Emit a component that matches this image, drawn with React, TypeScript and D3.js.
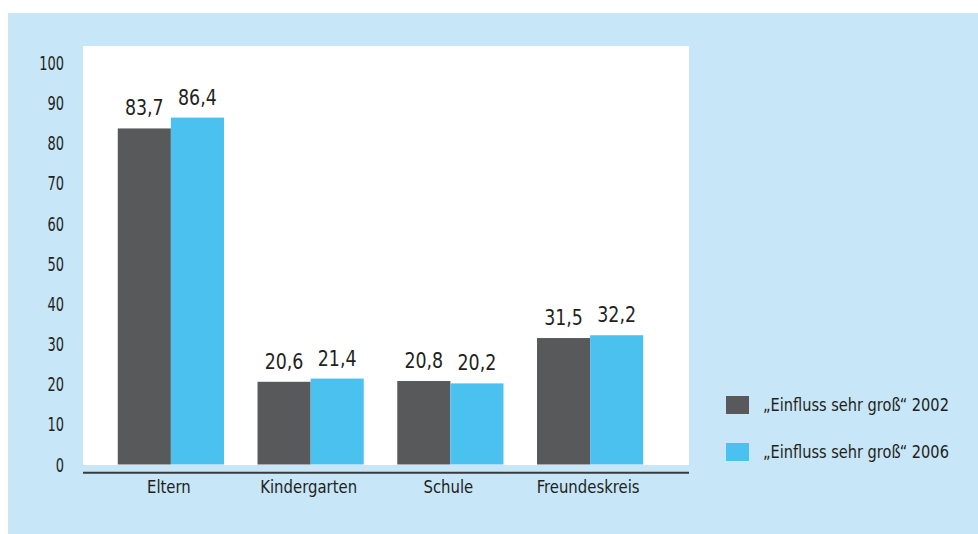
import React from 'react';
import * as d3 from 'd3';

const categories = ['Eltern', 'Kindergarten', 'Schule', 'Freundeskreis'];
const series = ['„Einfluss sehr groß“ 2002', '„Einfluss sehr groß“ 2006'];
const values2002 = [83.7, 20.6, 20.8, 31.5];
const values2006 = [86.4, 21.4, 20.2, 32.2];
const yTicks = [0, 10, 20, 30, 40, 50, 60, 70, 80, 90, 100];

const colors = ['#58595b', '#4bc1f0'];
const font = '"DejaVu Sans Condensed", "DejaVu Sans", sans-serif';
const textColor = '#231f20';

// condensed text: squeeze horizontally around its anchor point
const T: React.FC<{ x: number, y: number, sx?: number, size: number, anchor?: string, dy?: string, children: React.ReactNode }> =
  ({ x, y, sx = 0.88, size, anchor = 'start', dy, children }) => (
    <text transform={`translate(${x},${y}) scale(${sx},1)`} textAnchor={anchor} dy={dy}
      fontSize={size} fill={textColor}>{children}</text>
  );

const App: React.FC = () => {
  const width = 978, height = 534;
  const plot = { left: 83, right: 689, top: 46, bottom: 465 };

  const x = d3.scaleBand<string>()
    .domain(categories)
    .range([101, 660])
    .paddingInner(0.24)
    .paddingOuter(0.12);

  const x1 = d3.scaleBand<number>()
    .domain([0, 1])
    .range([0, x.bandwidth()]);

  const y = d3.scaleLinear().domain([0, 100]).range([464.5, 63]);

  const data = [values2002, values2006];
  const fmt = (v: number) => v.toFixed(1).replace('.', ',');

  return (
    <svg width={width} height={height} style={{ position: 'absolute', left: 0, top: 0 }}
      fontFamily={font}>
      <rect x={8} y={13} width={width - 8} height={height - 13} fill="#c7e6f8" />
      <rect x={plot.left} y={plot.top} width={plot.right - plot.left}
        height={plot.bottom - plot.top} fill="#ffffff" />

      {yTicks.map(t => (
        <T key={t} x={64} y={y(t)} dy="0.36em" anchor="end" size={19.5} sx={0.74}>{t}</T>
      ))}

      {categories.map((c, i) => (
        <g key={c} transform={`translate(${x(c)},0)`}>
          {data.map((vals, s) => (
            <g key={s}>
              <rect x={x1(s)} y={y(vals[i])} width={x1.bandwidth()}
                height={y(0) - y(vals[i])} fill={colors[s]} />
              <T x={(x1(s) ?? 0) + x1.bandwidth() / 2} y={y(vals[i]) - 13}
                anchor="middle" size={22} sx={0.88}>{fmt(vals[i])}</T>
            </g>
          ))}
          <T x={x.bandwidth() / 2 - 2} y={493} anchor="middle" size={18} sx={0.92}>{c}</T>
        </g>
      ))}

      <line x1={plot.left} x2={plot.right} y1={472.7} y2={472.7}
        stroke="#3a3a3c" strokeWidth={2} />

      {series.map((s, i) => (
        <g key={s} transform={`translate(726,${396 + i * 47})`}>
          <rect width={23} height={18} fill={colors[i]} />
          <T x={37} y={9} dy="0.36em" size={18} sx={0.9}>{s}</T>
        </g>
      ))}
    </svg>
  );
};

export default App;
